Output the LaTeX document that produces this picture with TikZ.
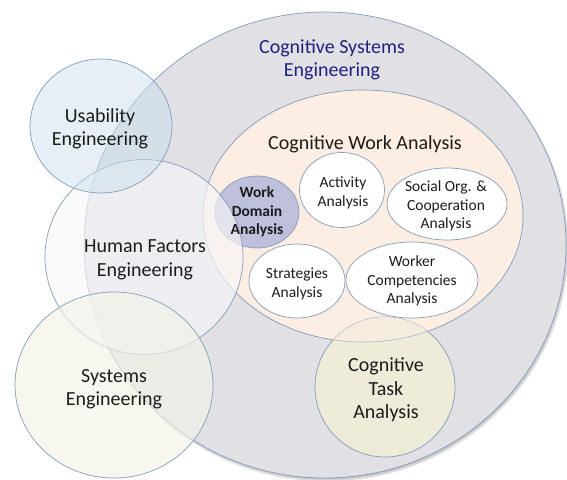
\documentclass[tikz,border=0pt]{standalone}
\usepackage{fontspec}
\setmainfont{Carlito}
\usepackage{tikz}
\usetikzlibrary{positioning, shapes.geometric, shadows.blur}

\definecolor{edgeblue}{RGB}{132,156,186}
\definecolor{cseGray}{RGB}{224,224,229}
\definecolor{cwaPeach}{RGB}{252,238,227}
\definecolor{wdaLilac}{RGB}{190,192,220}
\definecolor{ctaCream}{RGB}{239,235,217}
\definecolor{useBlue}{RGB}{204,223,236}
\definecolor{hfeWhite}{RGB}{247,247,249}
\definecolor{syeCream}{RGB}{242,243,232}
\definecolor{cseText}{RGB}{34,34,128}
\definecolor{bodyText}{RGB}{28,28,28}

\tikzset{
  blob/.style={ellipse, draw=edgeblue, line width=0.7pt, inner sep=0pt},
  bigtxt/.style={font=\fontsize{20}{23.5}\selectfont, align=center, text=bodyText},
  smalltxt/.style={font=\fontsize{15.5}{18.6}\selectfont, align=center, text=bodyText},
}

\begin{document}
\begin{tikzpicture}[x=1pt, y=-1pt]
\useasboundingbox (0,0) rectangle (567,479);
% outer field
\node[blob, fill=cseGray, minimum width=482pt, minimum height=466pt,
  blur shadow={shadow xshift=1.5pt, shadow yshift=-2.5pt, shadow blur steps=6, shadow opacity=25}] (cse) at (325,245) {};
% cognitive work analysis
\node[blob, fill=cwaPeach, minimum width=320pt, minimum height=252pt] (cwa) at (363,216) {};
% phases inside CWA
\node[blob, fill=wdaLilac, minimum width=84pt, minimum height=72pt] (wda) at (257,212) {};
\node[blob, fill=white, minimum width=85pt, minimum height=75pt] (act) at (342,190) {};
\node[blob, fill=white, minimum width=120pt, minimum height=72pt] (soc) at (447,204) {};
\node[blob, fill=white, minimum width=96pt, minimum height=74pt] (str) at (297,281) {};
\node[blob, fill=white, minimum width=132pt, minimum height=76pt] (wco) at (412,280) {};
% task analysis, CWA rim seen through it
\node[blob, fill=ctaCream, minimum width=140pt, minimum height=140pt] (cta) at (385,387) {};
\begin{scope}
  \clip (cta.center) circle (70pt);
  \fill[cwaPeach!45!ctaCream] (cwa.center) ellipse [x radius=160pt, y radius=126pt];
  \draw[edgeblue!70, line width=0.6pt] (cwa.center) ellipse [x radius=160pt, y radius=126pt];
\end{scope}
% neighbouring disciplines
\node[blob, fill=hfeWhite, fill opacity=0.65, minimum width=198pt, minimum height=195pt] (hfe) at (144,257) {};
\node[blob, fill=useBlue, fill opacity=0.5, minimum width=142pt, minimum height=134pt] (use) at (101,126) {};
\node[blob, fill=syeCream, fill opacity=0.65, minimum width=198pt, minimum height=186pt] (sye) at (114,385) {};
% labels
\node[bigtxt, text=cseText] (cseLbl) at (332,60) {Cognitive Systems\\Engineering};
\node[bigtxt] (cwaLbl) at (365,144) {Cognitive Work Analysis};
\node[bigtxt] (useLbl) at (100,129) {Usability\\Engineering};
\node[bigtxt] (hfeLbl) at (145,260) {Human Factors\\Engineering};
\node[bigtxt] (syeLbl) at (114,389) {Systems\\Engineering};
\node[bigtxt] (ctaLbl) at (386,390) {Cognitive\\Task\\Analysis};
\node[smalltxt, font=\fontsize{15.5}{18.6}\selectfont\bfseries] (wdaLbl) at (257,212) {Work\\Domain\\Analysis};
\node[smalltxt] (actLbl) at (343,193) {Activity\\Analysis};
\node[smalltxt] (socLbl) at (446,206) {Social Org. \&\\Cooperation\\Analysis};
\node[smalltxt] (strLbl) at (297,284) {Strategies\\Analysis};
\node[smalltxt] (wcoLbl) at (412,281) {Worker\\Competencies\\Analysis};
\end{tikzpicture}
\end{document}
